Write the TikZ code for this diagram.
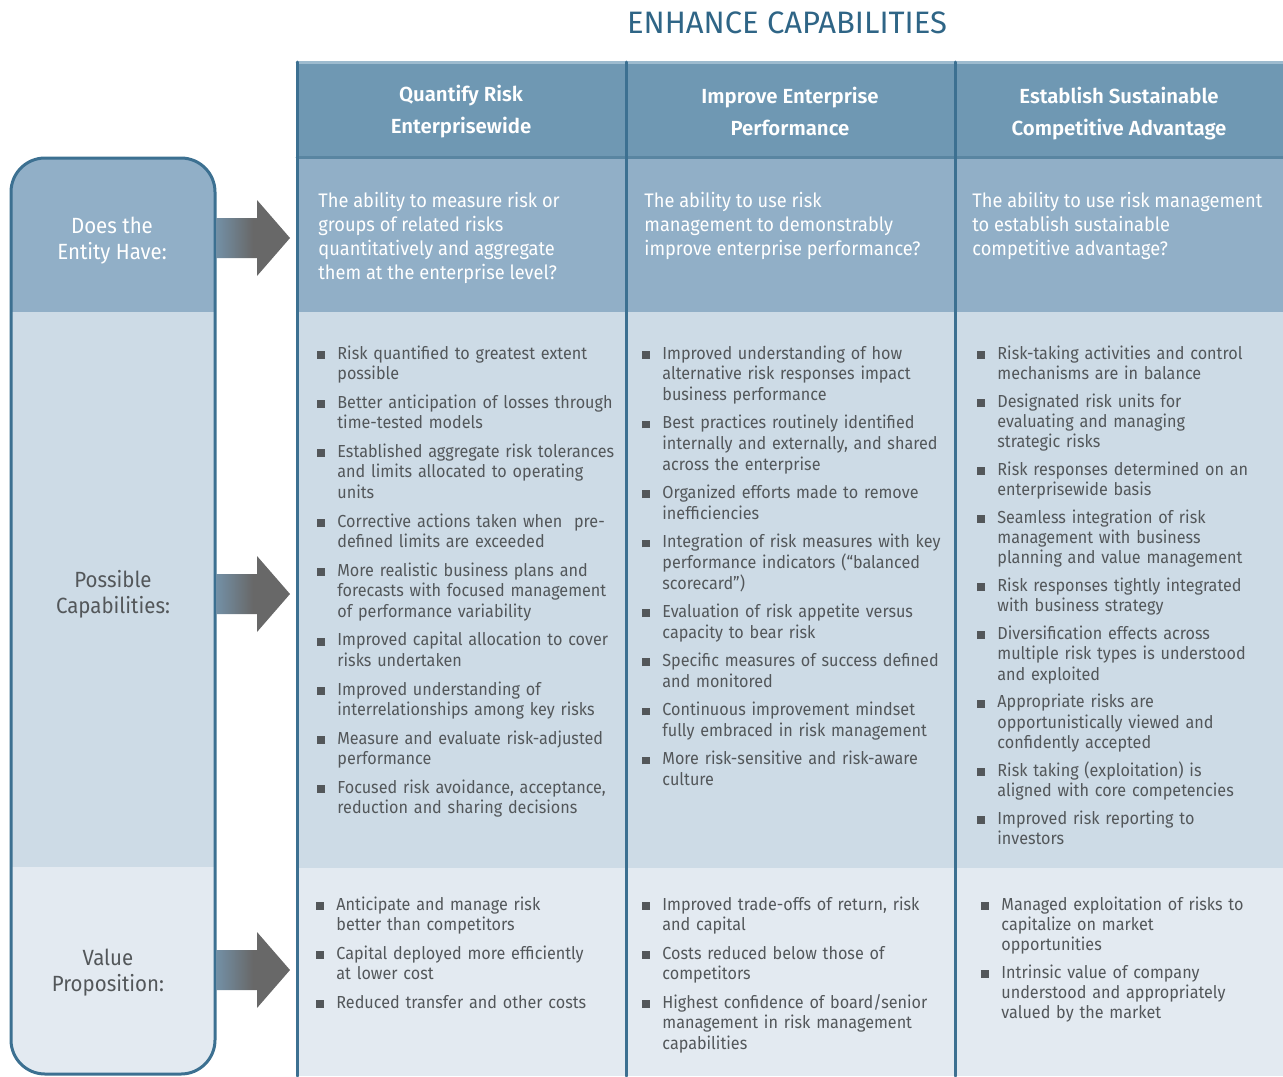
\documentclass[tikz,border=0pt]{standalone}
\usepackage{fontspec}
\setmainfont{Fira Sans}
\newfontfamily\condfont{Fira Sans}[FakeStretch=0.93]
\newfontfamily\headfont{Fira Sans SemiBold}
\definecolor{hdr}{HTML}{6F98B3}
\definecolor{hdrtop}{HTML}{9DBBCF}
\definecolor{rowa}{HTML}{91AFC7}
\definecolor{rowb}{HTML}{CDDBE6}
\definecolor{rowc}{HTML}{E3EAF1}
\definecolor{edge}{HTML}{3C7091}
\definecolor{ttl}{HTML}{2F6586}
\definecolor{txt}{HTML}{53575A}
\definecolor{arrl}{HTML}{7390A6}
\definecolor{arrr}{HTML}{686868}
\newcommand{\blgap}{3.85pt}
\newcommand{\bl}[1]{\noindent\llap{{\color{txt}\rule[0.2pt]{3.9pt}{3.9pt}}\hspace{6.4pt}}#1\par\vspace{\blgap}}
\tikzset{
  hd/.style={font=\headfont\fontsize{10.2}{16}\selectfont, text=white, align=center, anchor=base, inner sep=0pt},
  qs/.style={font=\condfont\fontsize{9.8}{12}\selectfont, text=white, align=left, anchor=base west, inner sep=0pt},
  lst/.style={font=\condfont\fontsize{8.7}{10.35}\selectfont, text=txt, text width=170pt, align=left, anchor=base west, inner sep=0pt},
  tight/.style={font=\condfont\fontsize{8.7}{10.15}\selectfont\renewcommand{\blgap}{3.7pt}},
  side/.style={font=\condfont\fontsize{11}{12.75}\selectfont, align=center, anchor=base, inner sep=0pt}
}
\begin{document}
\begin{tikzpicture}[x=0.5pt, y=-0.5pt, line join=round, line cap=round]
	\useasboundingbox (0,0) rectangle (1283,1076);
	%\draw[gray!30] (0,0) grid[step=100] (1283,1076);
	\node[font=\fontsize{15.5}{18}\selectfont, text=ttl, anchor=base, inner sep=0pt] (title) at (787,33) {ENHANCE CAPABILITIES};
	% table
	\fill[hdr] (297,61) rectangle (1283,157);
	\fill[rowa] (297,157) rectangle (1283,312);
	\fill[rowb] (297,312) rectangle (1283,868);
	\fill[rowc] (297,868) rectangle (1283,1076);
	\draw[line width=1.5pt, hdrtop] (297,62)--(1283,62);
	\draw[line width=1.5pt, edge!85] (297,157)--(1283,157);
	\foreach \x in {297,626,955}
	\draw[line width=1.5pt, edge] (\x,62)--(\x,1076);
	% left panel
	\begin{scope}
		\clip[rounded corners=17pt] (11,158) rectangle (215,1074);
		\fill[rowa] (0,150) rectangle (220,312);
		\fill[rowb] (0,312) rectangle (220,867);
		\fill[rowc] (0,867) rectangle (220,1076);
	\end{scope}
	\draw[line width=1.5pt, edge, rounded corners=17pt] (11,158) rectangle (215,1074);
	\foreach \yc in {238,594,970}
	\shade[left color=arrl, right color=arrr, middle color=arrr] (216,\yc-20)--(257,\yc-20)--(257,\yc-38)--(290,\yc)--(257,\yc+38)--(257,\yc+20)--(216,\yc+20)--cycle;
	\node[side, text=white] (have) at (112,259) {Does the\\Entity Have:};
	\node[side, text=txt] (poss) at (113,613) {Possible\\Capabilities:};
	\node[side, text=txt] (val) at (108,991) {Value\\Proposition:};
	% headers
	\node[hd] (qhd) at (461,133) {Quantify Risk\\Enterprisewide};
	\node[hd] (ihd) at (790,135) {Improve Enterprise\\Performance};
	\node[hd] (ehd) at (1119,135) {Establish Sustainable\\Competitive Advantage};
	\node[qs] (qq) at (318,279) {The ability to measure risk or\\groups of related risks\\quantitatively and aggregate\\them at the enterprise level?};
	\node[qs] (iq) at (644,255) {The ability to use risk\\management to demonstrably\\improve enterprise performance?};
	\node[qs] (eq) at (972,255) {The ability to use risk management\\to establish sustainable\\competitive advantage?};
	% capabilities
	\node[lst] (qcap) at (337,359) {\bl{Risk quantified to greatest extent\\possible}\bl{Better anticipation of losses through\\time-tested models}\bl{Established aggregate risk tolerances\\and limits allocated to operating\\units}\bl{Corrective actions taken when\ \ pre-\\defined limits are exceeded}\bl{More realistic business plans and\\forecasts with focused management\\of performance variability}\bl{Improved capital allocation to cover\\risks undertaken}\bl{Improved understanding of\\interrelationships among key risks}\bl{Measure and evaluate risk-adjusted\\performance}\bl{Focused risk avoidance, acceptance,\\reduction and sharing decisions}};
	\node[lst] (icap) at (662,359) {\bl{Improved understanding of how\\alternative risk responses impact\\business performance}\bl{Best practices routinely identified\\internally and externally, and shared\\across the enterprise}\bl{Organized efforts made to remove\\inefficiencies}\bl{Integration of risk measures with key\\performance indicators (“balanced\\scorecard”)}\bl{Evaluation of risk appetite versus\\capacity to bear risk}\bl{Specific measures of success defined\\and monitored}\bl{Continuous improvement mindset\\fully embraced in risk management}\bl{More risk-sensitive and risk-aware\\culture}};
	\node[lst, tight] (ecap) at (997,359) {\bl{Risk-taking activities and control\\mechanisms are in balance}\bl{Designated risk units for\\evaluating and managing\\strategic risks}\bl{Risk responses determined on an\\enterprisewide basis}\bl{Seamless integration of risk\\management with business\\planning and value management}\bl{Risk responses tightly integrated\\with business strategy}\bl{Diversification effects across\\multiple risk types is understood\\and exploited}\bl{Appropriate risks are\\opportunistically viewed and\\confidently accepted}\bl{Risk taking (exploitation) is\\aligned with core competencies}\bl{Improved risk reporting to\\investors}};
	% value
	\node[lst] (qval) at (336,910) {\bl{Anticipate and manage risk\\better than competitors}\bl{Capital deployed more efficiently\\at lower cost}\bl{Reduced transfer and other costs}};
	\node[lst] (ival) at (662,910) {\bl{Improved trade-offs of return, risk\\and capital}\bl{Costs reduced below those of\\competitors}\bl{Highest confidence of board/senior\\management in risk management\\capabilities}};
	\node[lst, tight] (eval) at (1001,910) {\bl{Managed exploitation of risks to\\capitalize on market\\opportunities}\bl{Intrinsic value of company\\understood and appropriately\\valued by the market}};
\end{tikzpicture}
\end{document}
